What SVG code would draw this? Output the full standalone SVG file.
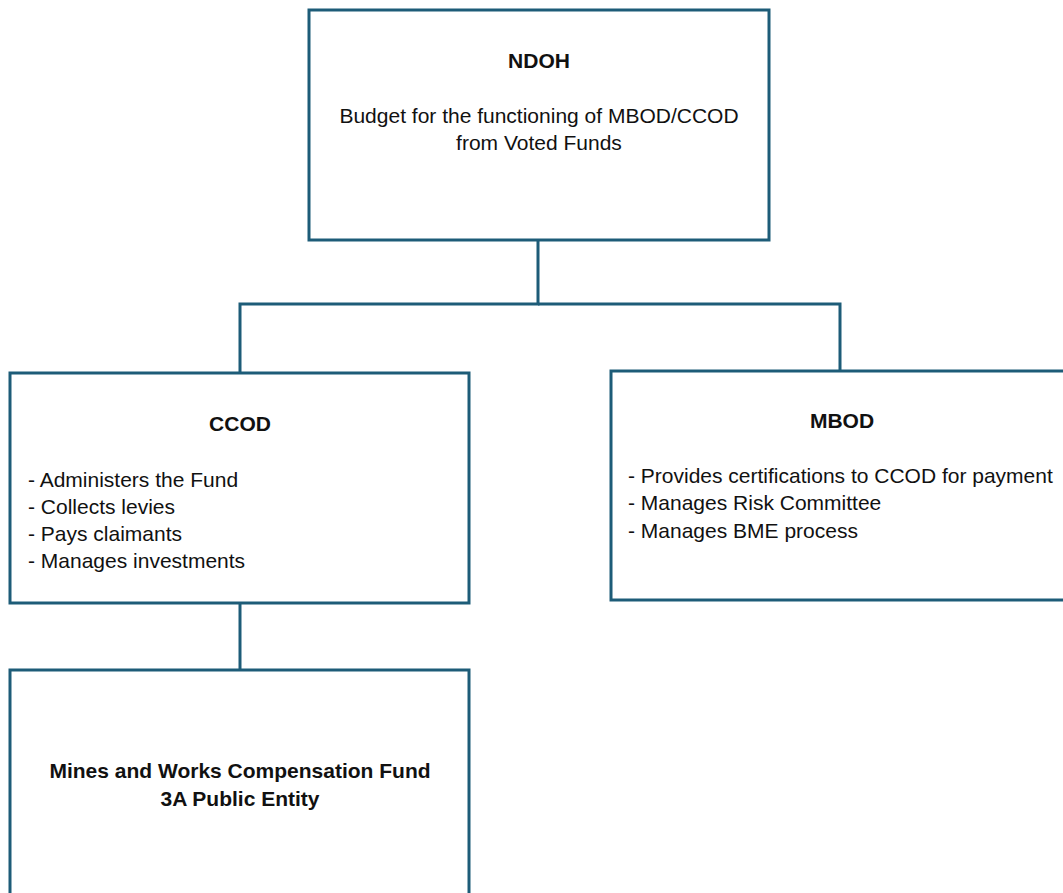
<svg xmlns="http://www.w3.org/2000/svg" width="1063" height="893" viewBox="0 0 1063 893">
<style>
.box{fill:#ffffff;stroke:#1d5c78;stroke-width:3}
.conn{fill:none;stroke:#1d5c78;stroke-width:3}
text{font-family:"Liberation Sans",Arial,sans-serif;font-size:21px;fill:#111111}
.b{font-weight:bold}
.c{text-anchor:middle}
</style>
<rect width="1063" height="893" fill="#ffffff"/>
<g id="connectors">
<polyline class="conn" points="538,240 538,304 240,304 240,373"/>
<polyline class="conn" points="538,304 840,304 840,371"/>
<line class="conn" x1="240" y1="603" x2="240" y2="670"/>
</g>
<g id="ndoh">
<rect class="box" x="309" y="10" width="460" height="230"/>
<text class="b c" x="539" y="68">NDOH</text>
<text class="c" x="539" y="123">Budget for the functioning of MBOD/CCOD</text>
<text class="c" x="539" y="150">from Voted Funds</text>
</g>
<g id="ccod">
<rect class="box" x="10" y="373" width="459" height="230"/>
<text class="b c" x="240" y="431">CCOD</text>
<text x="28" y="487">- Administers the Fund</text>
<text x="28" y="514">- Collects levies</text>
<text x="28" y="541">- Pays claimants</text>
<text x="28" y="568">- Manages investments</text>
</g>
<g id="mbod">
<rect class="box" x="611" y="371" width="470" height="229"/>
<text class="b c" x="842" y="428">MBOD</text>
<text x="628" y="483">- Provides certifications to CCOD for payment</text>
<text x="628" y="510">- Manages Risk Committee</text>
<text x="628" y="538">- Manages BME process</text>
</g>
<g id="fund">
<rect class="box" x="10" y="670" width="459" height="240"/>
<text class="b c" x="240" y="778">Mines and Works Compensation Fund</text>
<text class="b c" x="240" y="806">3A Public Entity</text>
</g>
</svg>
